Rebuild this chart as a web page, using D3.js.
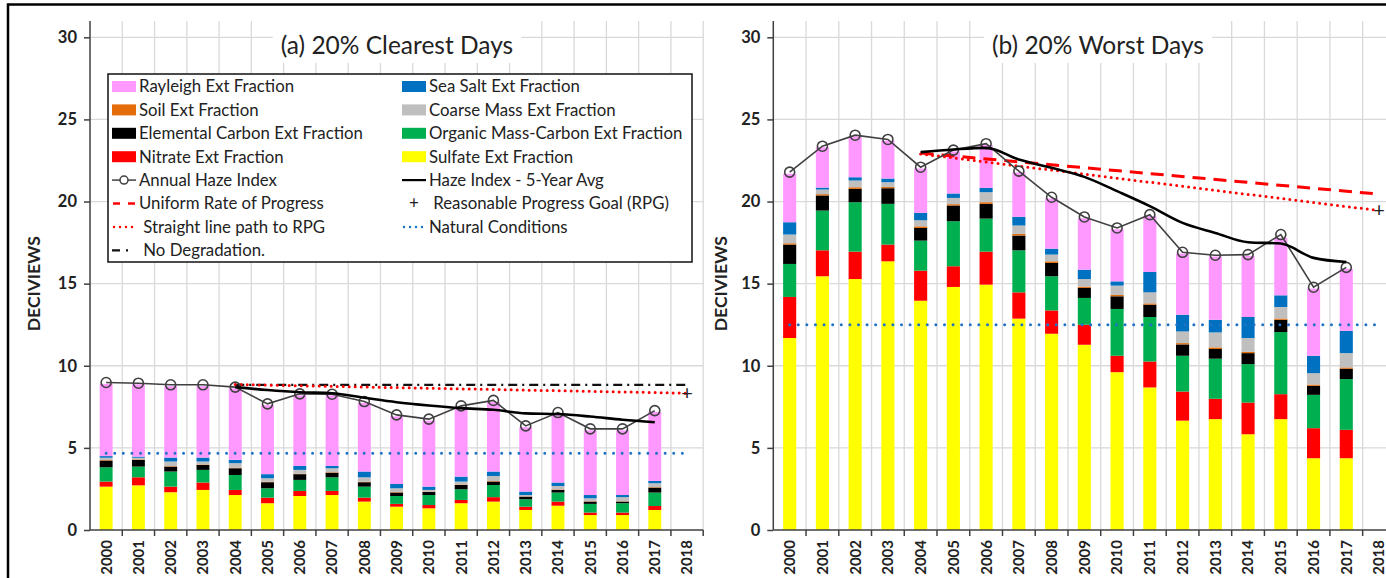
<!DOCTYPE html>
<html>
<head>
<meta charset="utf-8">
<script src="https://cdn.jsdelivr.net/npm/d3@7"></script>
<style>
  body { margin: 0; background: #fff; }
  svg { display: block; font-family: Lato, 'Open Sans', sans-serif; }
</style>
</head>
<body>
<svg id="chart" width="1386" height="578"></svg>
<script>
// categories -------------------------------------------
const years = ['2000', '2001', '2002', '2003', '2004', '2005', '2006', '2007', '2008', '2009',
  '2010', '2011', '2012', '2013', '2014', '2015', '2016', '2017', '2018']
const dataYears = years.slice(0, 18)
const yTicks = [0, 5, 10, 15, 20, 25, 30]

// (a) 20% clearest days, deciviews per component
const clearSulfate = [2.64, 2.72, 2.30, 2.44, 2.13, 1.63, 2.07, 2.13, 1.73, 1.42, 1.32, 1.63, 1.73, 1.22, 1.48, 0.91, 0.91, 1.22]
const clearNitrate = [0.31, 0.49, 0.34, 0.45, 0.31, 0.34, 0.31, 0.25, 0.24, 0.17, 0.20, 0.20, 0.27, 0.20, 0.25, 0.15, 0.15, 0.24]
const clearOrganic = [0.87, 0.65, 0.92, 0.77, 0.91, 0.57, 0.67, 0.83, 0.67, 0.48, 0.61, 0.65, 0.74, 0.45, 0.55, 0.53, 0.57, 0.82]
const clearElemental = [0.41, 0.41, 0.30, 0.30, 0.41, 0.37, 0.35, 0.28, 0.27, 0.21, 0.19, 0.26, 0.21, 0.16, 0.16, 0.14, 0.10, 0.30]
const clearSoil = [0.03, 0.03, 0.03, 0.03, 0.03, 0.03, 0.03, 0.03, 0.03, 0.03, 0.02, 0.03, 0.03, 0.02, 0.03, 0.02, 0.02, 0.03]
const clearCoarse = [0.14, 0.10, 0.28, 0.18, 0.28, 0.21, 0.23, 0.24, 0.27, 0.23, 0.10, 0.18, 0.31, 0.08, 0.21, 0.18, 0.25, 0.24]
const clearSeaSalt = [0.10, 0.07, 0.24, 0.24, 0.20, 0.25, 0.24, 0.14, 0.35, 0.26, 0.20, 0.30, 0.27, 0.21, 0.21, 0.20, 0.13, 0.14]
const clearRayleigh = [4.40, 4.40, 4.35, 4.35, 4.35, 4.20, 4.30, 4.30, 4.18, 4.12, 4.02, 4.22, 4.23, 3.92, 4.17, 3.94, 3.94, 4.20]
const clearHaze = [8.98, 8.94, 8.84, 8.84, 8.70, 7.68, 8.29, 8.27, 7.82, 7.01, 6.75, 7.56, 7.89, 6.34, 7.15, 6.16, 6.16, 7.27]
const avgYears = ['2004', '2005', '2006', '2007', '2008', '2009', '2010', '2011', '2012', '2013', '2014', '2015', '2016', '2017']
const clearAvg = [8.70, 8.52, 8.39, 8.33, 8.05, 7.78, 7.58, 7.42, 7.32, 7.10, 7.06, 6.91, 6.71, 6.56]
const clearNoDegradation = [['2004', 8.84], ['2018', 8.84]]
const clearPath = [['2004', 8.86], ['2018', 8.33]]
const clearRPG = [['2018', 8.33]]
const clearNatural = [['2000', 4.68], ['2018', 4.68]]

// (b) 20% worst days
const worstSulfate = [11.69, 15.45, 15.28, 16.36, 13.96, 14.80, 14.94, 12.87, 11.95, 11.28, 9.61, 8.68, 6.66, 6.75, 5.83, 6.75, 4.37, 4.37]
const worstNitrate = [2.50, 1.58, 1.67, 1.02, 1.83, 1.26, 2.01, 1.60, 1.42, 1.22, 1.00, 1.58, 1.77, 1.24, 1.93, 1.52, 1.83, 1.73]
const worstOrganic = [2.01, 2.42, 3.01, 2.48, 1.83, 2.74, 2.01, 2.56, 2.08, 1.63, 2.85, 2.71, 2.18, 2.44, 2.34, 3.78, 2.03, 3.09]
const worstElemental = [1.18, 0.92, 0.81, 0.95, 0.77, 0.96, 0.90, 0.90, 0.81, 0.61, 0.77, 0.75, 0.69, 0.59, 0.67, 0.75, 0.55, 0.63]
const worstSoil = [0.08, 0.08, 0.10, 0.08, 0.10, 0.08, 0.10, 0.10, 0.10, 0.08, 0.08, 0.08, 0.08, 0.10, 0.08, 0.08, 0.08, 0.08]
const worstCoarse = [0.53, 0.28, 0.41, 0.29, 0.37, 0.38, 0.61, 0.51, 0.41, 0.46, 0.57, 0.67, 0.71, 0.91, 0.84, 0.70, 0.69, 0.87]
const worstSeaSalt = [0.75, 0.12, 0.20, 0.22, 0.45, 0.27, 0.26, 0.53, 0.36, 0.57, 0.26, 1.24, 1.02, 0.77, 1.28, 0.71, 1.06, 1.36]
const worstRayleigh = [2.95, 2.45, 2.48, 2.30, 2.70, 2.56, 2.61, 2.70, 3.05, 3.13, 3.17, 3.40, 3.72, 3.85, 3.72, 3.49, 4.09, 3.77]
const worstHaze = [21.79, 23.37, 24.04, 23.78, 22.09, 23.13, 23.52, 21.85, 20.26, 19.06, 18.39, 19.20, 16.91, 16.73, 16.77, 17.99, 14.78, 15.99]
const worstAvg = [23.01, 23.17, 23.27, 22.56, 22.05, 21.50, 20.63, 19.72, 18.70, 18.09, 17.52, 17.44, 16.57, 16.32]
const worstURP = [['2004', 22.95], ['2018', 20.45]]
const worstPath = [['2004', 22.90], ['2018', 19.45]]
const worstRPG = [['2018', 19.45]]
const worstNatural = [['2000', 12.5], ['2018', 12.5]]

// stack order bottom -> top
const components = ['Sulfate', 'Nitrate', 'Organic', 'Elemental', 'Soil', 'Coarse', 'SeaSalt', 'Rayleigh']
const compColors = ['#ffff00', '#ff0000', '#00b050', '#000000', '#e46c0a', '#bfbfbf', '#0070c0', '#ff99ff']

const svg = d3.select('#chart')
const y = d3.scaleLinear().domain([0, 30]).range([530, 37.3])
const plotTop = 21

function drawPanel(o) {
  const g = svg.append('g')
  const x = d3.scaleBand().domain(years).range(o.xr).paddingInner(0.6).paddingOuter(0.3)
  const cx = (d) => x(d) + x.bandwidth() / 2
  const bounds = years.slice(1).map((d) => x(d) - x.step() * 0.3).concat([o.xr[1]])

  // grid
  g.selectAll('.hgrid')
    .data(yTicks.slice(1))
    .join('line')
    .attr('x1', o.xr[0]).attr('x2', o.xr[1])
    .attr('y1', (d) => y(d)).attr('y2', (d) => y(d))
    .attr('stroke', '#d9d9d9').attr('stroke-width', 1.3)
  g.selectAll('.vgrid')
    .data(bounds)
    .join('line')
    .attr('x1', (d) => d).attr('x2', (d) => d)
    .attr('y1', plotTop).attr('y2', y(0))
    .attr('stroke', '#d9d9d9').attr('stroke-width', 1.3)

  // title with white background
  const t = g.append('text')
    .attr('x', o.titleX).attr('y', 54)
    .attr('text-anchor', 'middle')
    .attr('font-size', 24.5).attr('fill', '#222')
    .text(o.title)
  const bb = t.node().getBBox()
  g.insert('rect', () => t.node())
    .attr('x', bb.x - 8).attr('y', plotTop - 2).attr('width', bb.width + 16).attr('height', bb.y + bb.height - plotTop + 6)
    .attr('fill', '#fff')

  // stacked bars
  const rows = dataYears.map((yr, i) => {
    const r = { year: yr }
    components.forEach((c, k) => (r[c] = o.comps[k][i]))
    return r
  })
  const series = d3.stack().keys(components)(rows)
  g.selectAll('.layer')
    .data(series)
    .join('g')
    .attr('fill', (d, i) => compColors[i])
    .selectAll('rect')
    .data((d) => d)
    .join('rect')
    .attr('x', (d) => x(d.data.year))
    .attr('width', x.bandwidth())
    .attr('y', (d) => y(d[1]))
    .attr('height', (d) => y(d[0]) - y(d[1]))

  // axes
  const yAxis = g.append('g')
    .attr('transform', `translate(${o.xr[0]},0)`)
    .call(d3.axisLeft(y).tickValues(yTicks).tickSize(6).tickPadding(7))
  yAxis.select('.domain').remove()
  yAxis.append('line').attr('x1', 0).attr('x2', 0).attr('y1', plotTop).attr('y2', y(0))
    .attr('stroke', '#404040').attr('stroke-width', 1.5)
  yAxis.selectAll('.tick line').attr('stroke', '#404040').attr('stroke-width', 1.5)
  yAxis.selectAll('text').attr('font-size', 16.5).attr('font-weight', 'bold')
    .attr('font-family', 'Lato, sans-serif').attr('fill', '#222')

  const xAxis = g.append('g')
    .attr('transform', `translate(0,${y(0)})`)
    .call(d3.axisBottom(x).tickSize(0))
  xAxis.select('.domain').remove()
  xAxis.append('line').attr('x1', o.xr[0]).attr('x2', o.xr[1])
    .attr('stroke', '#404040').attr('stroke-width', 1.5)
  xAxis.selectAll('.bound')
    .data(bounds)
    .join('line')
    .attr('x1', (d) => d).attr('x2', (d) => d)
    .attr('y1', 0).attr('y2', 6)
    .attr('stroke', '#404040').attr('stroke-width', 1.5)
  xAxis.selectAll('.tick text')
    .attr('transform', 'rotate(-90)')
    .attr('x', -10).attr('y', 0).attr('dy', '0.36em')
    .attr('text-anchor', 'end')
    .attr('font-size', 15).attr('font-weight', 'bold')
    .attr('font-family', 'Lato, sans-serif').attr('fill', '#222')

  // y label
  g.append('text')
    .attr('transform', `translate(${o.labelX},${y(15)}) rotate(-90)`)
    .attr('text-anchor', 'middle')
    .attr('font-size', 17.5).attr('font-weight', 'bold').attr('fill', '#222')
    .text('DECIVIEWS')

  // reference lines
  const line = d3.line().x((d) => cx(d[0])).y((d) => y(d[1]))
  g.append('path').datum(o.natural).attr('d', line)
    .attr('fill', 'none').attr('stroke', '#1f72c4').attr('stroke-width', 3)
    .attr('stroke-dasharray', '0,8.6').attr('stroke-linecap', 'round')
  if (o.noDeg) {
    g.append('path').datum(o.noDeg).attr('d', line)
      .attr('fill', 'none').attr('stroke', '#111').attr('stroke-width', 2.2)
      .attr('stroke-dasharray', '9,5,2,5')
  }
  if (o.urp) {
    g.append('path').datum(o.urp).attr('d', line)
      .attr('fill', 'none').attr('stroke', '#ff0000').attr('stroke-width', 3)
      .attr('stroke-dasharray', '13,8')
  }
  g.append('path').datum(o.path).attr('d', line)
    .attr('fill', 'none').attr('stroke', '#ff0000').attr('stroke-width', 3)
    .attr('stroke-dasharray', '0,6').attr('stroke-linecap', 'round')

  // annual haze index
  const hazePts = dataYears.map((yr, i) => [yr, o.haze[i]])
  g.append('path').datum(hazePts).attr('d', line)
    .attr('fill', 'none').attr('stroke', '#404040').attr('stroke-width', 1.6)
  g.selectAll('.hz')
    .data(hazePts)
    .join('circle')
    .attr('cx', (d) => cx(d[0])).attr('cy', (d) => y(d[1])).attr('r', 5)
    .attr('fill', 'none').attr('stroke', '#404040').attr('stroke-width', 1.6)

  // 5-year average
  const avgLine = d3.line().x((d) => cx(d[0])).y((d) => y(d[1])).curve(d3.curveMonotoneX)
  g.append('path').datum(avgYears.map((yr, i) => [yr, o.avg[i]])).attr('d', avgLine)
    .attr('fill', 'none').attr('stroke', '#000').attr('stroke-width', 2.6)

  // RPG
  g.selectAll('.rpg')
    .data(o.rpg)
    .join('text')
    .attr('x', (d) => cx(d[0])).attr('y', (d) => y(d[1]))
    .attr('dy', '0.34em').attr('text-anchor', 'middle')
    .attr('font-size', 20).attr('fill', '#222')
    .text('+')
  return g
}

drawPanel({
  xr: [90, 703.2], labelX: 40, titleX: 397, title: '(a) 20% Clearest Days',
  comps: [clearSulfate, clearNitrate, clearOrganic, clearElemental, clearSoil, clearCoarse, clearSeaSalt, clearRayleigh],
  haze: clearHaze, avg: clearAvg, noDeg: clearNoDegradation, path: clearPath, rpg: clearRPG, natural: clearNatural
})
drawPanel({
  xr: [773.3, 1395.4], labelX: 727, titleX: 1098, title: '(b) 20% Worst Days',
  comps: [worstSulfate, worstNitrate, worstOrganic, worstElemental, worstSoil, worstCoarse, worstSeaSalt, worstRayleigh],
  haze: worstHaze, avg: worstAvg, urp: worstURP, path: worstPath, rpg: worstRPG, natural: worstNatural
})

// legend ------------------------------
const legendItems = [
  { label: 'Rayleigh Ext Fraction', type: 'box', color: '#ff99ff' },
  { label: 'Sea Salt Ext Fraction', type: 'box', color: '#0070c0' },
  { label: 'Soil Ext Fraction', type: 'box', color: '#e46c0a' },
  { label: 'Coarse Mass Ext Fraction', type: 'box', color: '#bfbfbf' },
  { label: 'Elemental Carbon Ext Fraction', type: 'box', color: '#000000' },
  { label: 'Organic Mass-Carbon Ext Fraction', type: 'box', color: '#00b050' },
  { label: 'Nitrate Ext Fraction', type: 'box', color: '#ff0000' },
  { label: 'Sulfate Ext Fraction', type: 'box', color: '#ffff00' },
  { label: 'Annual Haze Index', type: 'haze' },
  { label: 'Haze Index - 5-Year Avg', type: 'avg' },
  { label: 'Uniform Rate of Progress', type: 'urp' },
  { label: ' Reasonable Progress Goal (RPG)', type: 'rpg' },
  { label: ' Straight line path to RPG', type: 'path' },
  { label: 'Natural Conditions', type: 'nat' },
  { label: ' No Degradation.', type: 'nodeg' }
]

const legend = svg.append('g')
legend.append('rect')
  .attr('x', 108).attr('y', 74).attr('width', 584).attr('height', 188)
  .attr('fill', '#fff').attr('stroke', '#111').attr('stroke-width', 1.5)

const colX = [112, 402]
legendItems.forEach((d, i) => {
  const sx = colX[i % 2]
  const cy = 86.5 + Math.floor(i / 2) * 23.4
  const it = legend.append('g')
  if (d.type === 'box') {
    it.append('rect').attr('x', sx).attr('y', cy - 5.5).attr('width', 24).attr('height', 11).attr('fill', d.color)
  } else if (d.type === 'haze') {
    it.append('line').attr('x1', sx).attr('x2', sx + 24).attr('y1', cy).attr('y2', cy).attr('stroke', '#404040').attr('stroke-width', 1.5)
    it.append('circle').attr('cx', sx + 12).attr('cy', cy).attr('r', 4).attr('fill', '#fff').attr('stroke', '#404040').attr('stroke-width', 1.5)
  } else if (d.type === 'avg') {
    it.append('line').attr('x1', sx).attr('x2', sx + 24).attr('y1', cy).attr('y2', cy).attr('stroke', '#000').attr('stroke-width', 2.2)
  } else if (d.type === 'urp') {
    it.append('line').attr('x1', sx + 1).attr('x2', sx + 24).attr('y1', cy).attr('y2', cy).attr('stroke', '#ff0000').attr('stroke-width', 2.5).attr('stroke-dasharray', '7,8')
  } else if (d.type === 'rpg') {
    it.append('text').attr('x', sx + 12).attr('y', cy).attr('dy', '0.35em').attr('text-anchor', 'middle').attr('font-size', 17).attr('fill', '#222').text('+')
  } else if (d.type === 'path') {
    it.append('line').attr('x1', sx + 2).attr('x2', sx + 24).attr('y1', cy).attr('y2', cy).attr('stroke', '#ff0000').attr('stroke-width', 2.5).attr('stroke-dasharray', '0,6').attr('stroke-linecap', 'round')
  } else if (d.type === 'nat') {
    it.append('line').attr('x1', sx + 2).attr('x2', sx + 24).attr('y1', cy).attr('y2', cy).attr('stroke', '#1f72c4').attr('stroke-width', 2.5).attr('stroke-dasharray', '0,6').attr('stroke-linecap', 'round')
  } else if (d.type === 'nodeg') {
    it.append('line').attr('x1', sx).attr('x2', sx + 20).attr('y1', cy).attr('y2', cy).attr('stroke', '#111').attr('stroke-width', 2.2).attr('stroke-dasharray', '8,6,2,20')
  }
  it.append('text')
    .attr('x', sx + 27).attr('y', cy).attr('dy', '0.35em')
    .attr('font-size', 16.8).attr('fill', '#222')
    .style('white-space', 'pre')
    .text(d.label)
})

// outer frame (clipped at right and bottom)
svg.append('rect')
  .attr('x', 8).attr('y', 4.5).attr('width', 1420).attr('height', 620)
  .attr('fill', 'none').attr('stroke', '#000').attr('stroke-width', 2.5)
</script>
</body>
</html>
